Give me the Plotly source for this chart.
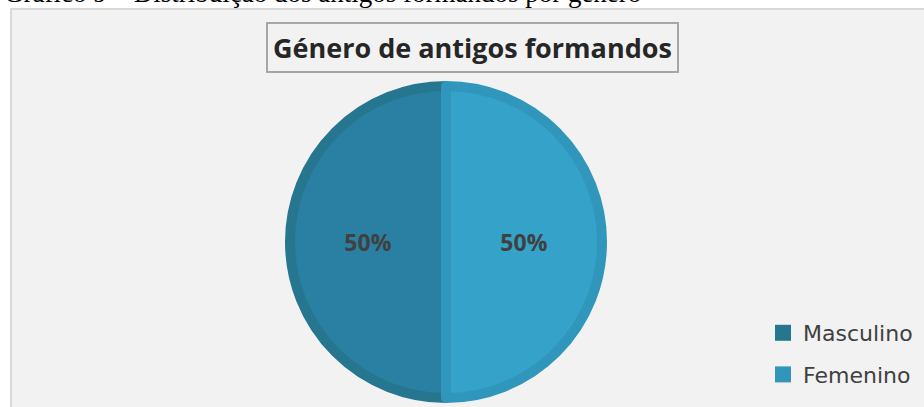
import plotly.graph_objects as go

# dados
generos = ["Masculino", "Femenino"]
percentagens = [50, 50]
cores = ["#2a80a2", "#35a2c9"]
cores_borda = ["#26768f", "#3096bc"]

titulo = "Género de antigos formandos"
legenda_grafico = "Gráfico 9 – Distribuição dos antigos formandos por gênero"

W, H = 924, 407


def px(x):
    return x / W


def py(y):
    return 1 - y / H


fig = go.Figure()
fig.add_trace(go.Pie(
    labels=generos,
    values=percentagens,
    sort=False,
    direction="clockwise",
    rotation=180,
    marker=dict(colors=cores, line=dict(color=cores_borda, width=10)),
    texttemplate="%{percent:.0%}",
    textposition="inside",
    insidetextorientation="horizontal",
    textfont=dict(family="Open Sans", size=23, color="#404040", weight="bold"),
    domain=dict(x=[px(290), px(602)], y=[py(398), py(86)]),
    hoverinfo="label+percent",
    showlegend=False,
))

# entradas da legenda (quadrados)
for nome, cor in zip(generos, cores_borda):
    fig.add_trace(go.Scatter(
        x=[None], y=[None], mode="markers", name=nome,
        marker=dict(symbol="square", size=16, color=cor),
        legendgroup=nome, showlegend=True,
    ))

# moldura do gráfico
fig.add_shape(type="rect", xref="paper", yref="paper",
              x0=px(11), x1=px(940), y0=py(420), y1=py(9),
              fillcolor="#f2f2f2", line=dict(color="#d9d9d9", width=2),
              layer="below")

# título com caixa
fig.add_annotation(
    text="<b>" + titulo + "</b>", xref="paper", yref="paper",
    x=px(472), y=py(47), xanchor="center", yanchor="middle",
    showarrow=False,
    font=dict(family="Open Sans", size=27, color="#262626"),
    bordercolor="#a6a6a6", borderwidth=2, borderpad=5, bgcolor="#f2f2f2",
)

# legenda da figura (cortada no topo)
fig.add_annotation(
    text=legenda_grafico, xref="paper", yref="paper",
    x=px(2), y=py(10), xanchor="left", yanchor="bottom",
    showarrow=False,
    font=dict(family="Liberation Serif", size=27, color="#000000"),
)

fig.update_layout(
    width=W, height=H,
    margin=dict(l=0, r=0, t=0, b=0, autoexpand=False),
    paper_bgcolor="white",
    plot_bgcolor="rgba(0,0,0,0)",
    xaxis=dict(visible=False),
    yaxis=dict(visible=False),
    showlegend=True,
    legend=dict(
        x=px(763), y=py(312), xanchor="left", yanchor="top",
        font=dict(family="DejaVu Sans", size=22, color="#404040"),
        bgcolor="rgba(0,0,0,0)",
        traceorder="grouped",
        tracegroupgap=10,
        itemwidth=30,
    ),
)

fig.write_html("out.html", config={"displayModeBar": False},
               post_script="document.body.style.margin='0';")
